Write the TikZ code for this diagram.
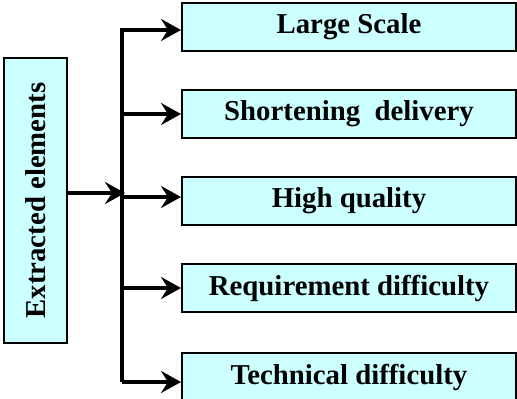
\documentclass[tikz,border=0pt]{standalone}
\usepackage{fontspec}
\setmainfont{Liberation Serif}
\usetikzlibrary{arrows.meta,positioning}
\definecolor{palecyan}{RGB}{204,255,255}
\tikzset{
  box/.style   = {draw, line width=1pt, minimum width=167pt, minimum height=24pt, inner sep=0pt, align=center, font=\Large\bfseries},
  pale/.style  = {fill=palecyan},
  line/.style  = {-{Stealth[length=10pt,width=11pt,inset=3.5pt]}, line width=1.7pt},
}
\begin{document}
\begin{tikzpicture}[node distance=18.5pt]
    \useasboundingbox (0,0) rectangle (258.5pt,-199.5pt);
    % Left column (source)
    \node[box,pale,rotate=90,minimum width=142.5pt,minimum height=31.5pt] (extract) at (17.75pt,-100.25pt) {Extracted elements};

    % Right column (five elements)
    \node[box,pale] (large) at (174.5pt,-13.5pt) {Large Scale};
    \node[box,pale,below=of large] (short) {Shortening\ \ delivery};
    \node[box,pale,below=of short] (quality) {High quality};
    \node[box,pale,below=of quality] (req) {Requirement difficulty};
    \node[box,pale,below=of req,yshift=-1pt] (tech) {Technical difficulty};

    % Trunk
    \coordinate (top) at (61pt,-14pt);
    \coordinate (low) at ([yshift=-2.5pt]tech.west);
    \draw[line width=1.7pt] (top) -- (top |- low);

    % Wires from source to trunk, trunk to elements
    \coordinate (out) at ([yshift=3.75pt]extract.south);
    \draw[line] (out) -- ([xshift=1.5pt]out -| top);
    \draw[line] ([yshift=-1.5pt]top |- large.west) -- ([yshift=-1.5pt]large.west);
    \draw[line] (top |- short.west) -- (short.west);
    \draw[line] ([yshift=2pt]top |- quality.west) -- ([yshift=2pt]quality.west);
    \draw[line] (top |- req.west) -- (req.west);
    \draw[line] (top |- low) -- (low);
  \end{tikzpicture}
\end{document}
